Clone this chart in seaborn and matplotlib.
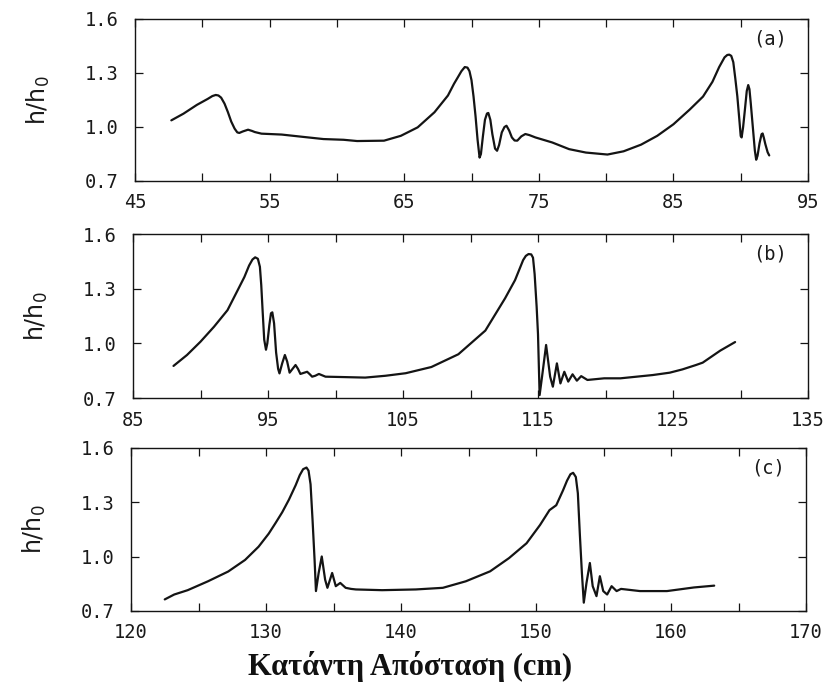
import numpy as np
import pandas as pd
import matplotlib
matplotlib.use("Agg")
import matplotlib.pyplot as plt
import seaborn as sns

# ---------------- data ----------------
# panel (a)
xa = [47.7, 48.6, 49.6, 50.4, 50.75, 51.0, 51.2, 51.4, 51.65, 51.9, 52.15, 52.4, 52.6,
      52.75, 53.0, 53.4, 53.7, 53.9, 54.4, 55.9, 57.5, 59.0, 60.5, 61.5, 63.5, 64.75,
      66.0, 67.25, 68.25, 68.7, 69.0, 69.25, 69.5, 69.7, 69.85, 70.0, 70.15, 70.3,
      70.45, 70.6, 70.7, 70.85, 71.0, 71.15, 71.25, 71.4, 71.55, 71.75, 71.9, 72.05,
      72.25, 72.45, 72.6, 72.8, 73.0, 73.2, 73.4, 73.7, 74.0, 74.3, 74.75, 76.0, 77.25,
      78.5, 80.1, 81.3, 82.6, 83.8, 85.0, 86.2, 87.2, 87.9, 88.4, 88.8, 89.0, 89.15,
      89.3, 89.45, 89.6, 89.75, 89.9, 90.0, 90.07, 90.18, 90.3, 90.45, 90.56, 90.65,
      90.75, 90.9, 91.05, 91.15, 91.25, 91.4, 91.55, 91.63, 91.72, 91.83, 92.0, 92.12]
ya = [1.037, 1.074, 1.123, 1.156, 1.172, 1.178, 1.175, 1.163, 1.130, 1.083, 1.030, 0.991, 0.970,
      0.967, 0.975, 0.985, 0.978, 0.972, 0.963, 0.958, 0.945, 0.933, 0.929, 0.922, 0.924, 0.951,
      0.998, 1.082, 1.175, 1.240, 1.278, 1.310, 1.333, 1.330, 1.310, 1.260, 1.170, 1.060,
      0.930, 0.830, 0.850, 0.950, 1.040, 1.075, 1.078, 1.040, 0.960, 0.880, 0.868, 0.900,
      0.970, 1.000, 1.007, 0.980, 0.942, 0.925, 0.924, 0.948, 0.961, 0.955, 0.942, 0.914, 0.877,
      0.858, 0.847, 0.865, 0.902, 0.951, 1.015, 1.096, 1.169, 1.251, 1.333, 1.387, 1.400, 1.402,
      1.395, 1.360, 1.269, 1.170, 1.040, 0.950, 0.942, 1.000, 1.087, 1.200, 1.233, 1.210,
      1.130, 1.000, 0.870, 0.818, 0.840, 0.910, 0.960, 0.964, 0.940, 0.905, 0.860, 0.842]

# panel (b)
xb = [88.0, 89.0, 90.0, 91.0, 92.0, 92.75, 93.25, 93.6, 93.85, 94.05, 94.25, 94.4,
      94.5, 94.6, 94.72, 94.85, 94.95, 95.1, 95.22, 95.32, 95.45, 95.6, 95.75, 95.85,
      96.05, 96.25, 96.42, 96.6, 96.82, 97.04, 97.22, 97.4, 97.65, 97.9, 98.1, 98.27,
      98.5, 98.77, 99.26, 100.5, 102.2, 103.7, 105.2, 107.1, 109.1, 111.1, 112.56, 113.3,
      113.9, 114.1, 114.3, 114.5, 114.63, 114.75, 114.9, 115.0, 115.12, 115.3, 115.6,
      115.9, 116.1, 116.4, 116.66, 116.95, 117.24, 117.56, 117.88, 118.2, 118.66, 119.9,
      121.1, 122.3, 123.5, 124.76, 125.7, 126.7, 127.2, 128.5, 129.6]
yb = [0.876, 0.936, 1.009, 1.091, 1.182, 1.291, 1.364, 1.427, 1.460, 1.472, 1.464, 1.420,
      1.320, 1.180, 1.020, 0.965, 1.000, 1.100, 1.165, 1.170, 1.110, 0.950, 0.860, 0.835,
      0.890, 0.936, 0.900, 0.839, 0.860, 0.881, 0.860, 0.832, 0.838, 0.844, 0.830, 0.817,
      0.822, 0.832, 0.817, 0.815, 0.812, 0.822, 0.836, 0.870, 0.940, 1.070, 1.247, 1.347,
      1.457, 1.480, 1.490, 1.488, 1.470, 1.380, 1.200, 1.050, 0.716, 0.817, 0.991,
      0.817, 0.762, 0.890, 0.780, 0.844, 0.790, 0.830, 0.795, 0.820, 0.799, 0.808,
      0.808, 0.817, 0.826, 0.839, 0.857, 0.881, 0.894, 0.960, 1.007]

# panel (c)
xc = [122.5, 123.2, 124.2, 125.7, 127.2, 128.45, 129.45, 130.2, 130.7, 131.2, 131.7,
      132.2, 132.5, 132.75, 133.0, 133.15, 133.3, 133.45, 133.6, 133.7, 133.9, 134.13,
      134.38, 134.55, 134.9, 135.17, 135.5, 135.9, 136.3, 136.66, 138.6, 141.1, 143.1,
      144.8, 146.6, 148.0, 149.3, 150.3, 151.0, 151.5, 152.0, 152.3, 152.55, 152.75,
      152.95, 153.1, 153.25, 153.4, 153.54, 153.74, 153.99, 154.2, 154.48, 154.73,
      154.98, 155.27, 155.6, 155.97, 156.3, 157.7, 159.7, 161.7, 163.2]
yc = [0.764, 0.791, 0.815, 0.864, 0.918, 0.982, 1.055, 1.127, 1.185, 1.245, 1.315,
      1.395, 1.450, 1.483, 1.492, 1.475, 1.400, 1.200, 0.980, 0.810, 0.910, 1.001,
      0.873, 0.828, 0.910, 0.837, 0.855, 0.828, 0.822, 0.819, 0.815, 0.819, 0.828,
      0.864, 0.919, 0.992, 1.074, 1.175, 1.257, 1.284, 1.366, 1.420, 1.455, 1.463,
      1.440, 1.350, 1.120, 0.910, 0.746, 0.855, 0.965, 0.837, 0.782, 0.892,
      0.810, 0.791, 0.837, 0.810, 0.822, 0.810, 0.810, 0.830, 0.840]

panel_names = ["(a)", "(b)", "(c)"]
x_starts = [45, 85, 120]
y_ticks = [0.7, 1.0, 1.3, 1.6]
y_ticklabels = ["0.7", "1.0", "1.3", "1.6"]
y_label = "h/h$_0$"
x_label = "Κατάντη Απόσταση (cm)"

# ---------------- styling ----------------
sns.set_theme(style="ticks")
plt.rcParams["font.family"] = ["DejaVu Sans Mono", "DejaVu Sans"]
plt.rcParams["mathtext.default"] = "regular"

fig = plt.figure(figsize=(8.36, 6.97), dpi=100)
fig.patch.set_facecolor("white")

positions = [
    [135 / 836, 1 - 181 / 697, 673 / 836, 162 / 697],
    [133 / 836, 1 - 398 / 697, 675 / 836, 164 / 697],
    [131 / 836, 1 - 611 / 697, 675 / 836, 163 / 697],
]

series = [(xa, ya), (xb, yb), (xc, yc)]
ink = "#141414"

for pos, (xs, ys), x0, name in zip(positions, series, x_starts, panel_names):
    ax = fig.add_axes(pos)
    df = pd.DataFrame({"x": xs, "y": ys})
    sns.lineplot(data=df, x="x", y="y", ax=ax, color=ink, linewidth=1.6,
                 sort=False, estimator=None)
    ax.set_xlim(x0, x0 + 50)
    ax.set_ylim(0.7, 1.6)
    xt = list(range(x0, x0 + 51, 5))
    ax.set_xticks(xt)
    ax.set_xticklabels([str(t) if (t - x0) % 10 == 0 else "" for t in xt])
    ax.set_yticks(y_ticks)
    ax.set_yticklabels(y_ticklabels)
    ax.tick_params(axis="both", direction="in", top=True, right=True,
                   length=6, width=0.9, colors=ink, labelsize=13.5,
                   labelcolor="#1a1a1a")
    ax.tick_params(axis="x", pad=9)
    ax.tick_params(axis="y", pad=12)
    for sp in ax.spines.values():
        sp.set_visible(True)
        sp.set_linewidth(1.0)
        sp.set_color(ink)
    ax.set_xlabel("")
    ax.set_ylabel(y_label, fontsize=17, family="DejaVu Sans", color="#1a1a1a")
    ax.yaxis.set_label_coords(-0.123, 0.5)
    ax.text(0.943, 0.877, name, transform=ax.transAxes, ha="center",
            va="center", fontsize=13.5, color="#1a1a1a")
    ax.set_facecolor("white")
    ax.grid(False)

fig.text(410 / 836, 1 - 675 / 697, x_label, ha="center", va="baseline",
         fontsize=22, fontweight="bold", family=["Liberation Serif", "DejaVu Serif"],
         color="#111111")

fig.savefig("out.png", dpi=100, facecolor="white")
